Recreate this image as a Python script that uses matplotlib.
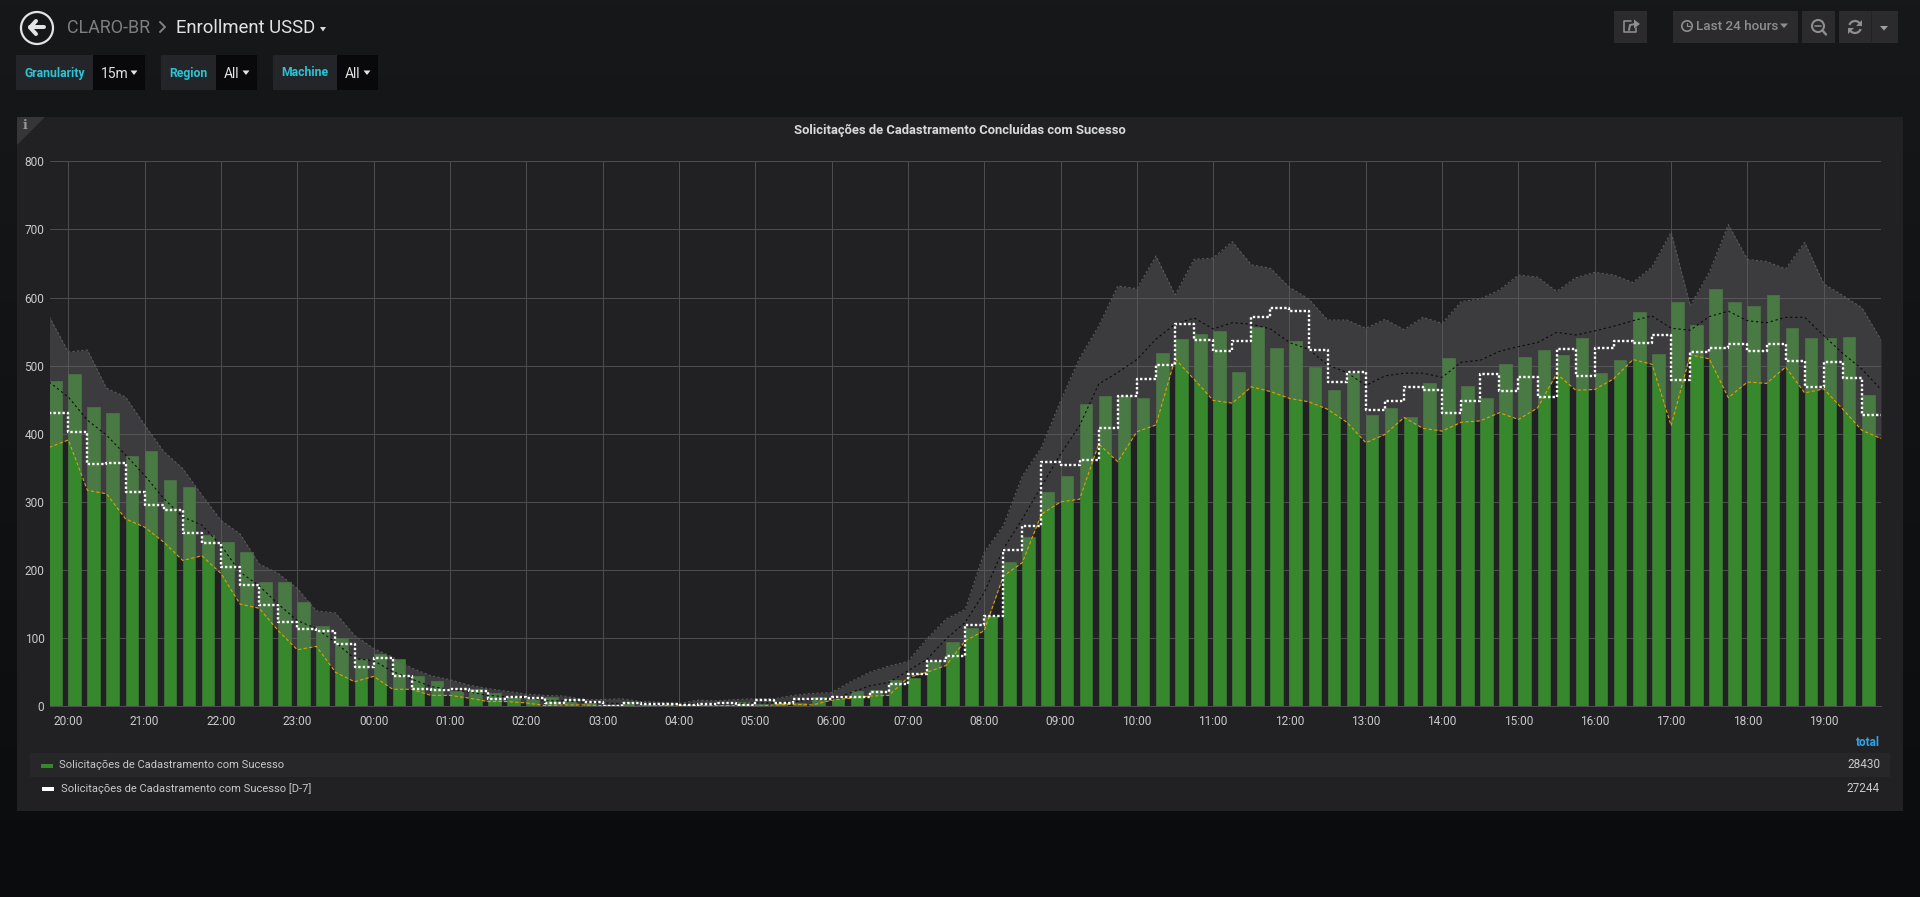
import numpy as np
import matplotlib
matplotlib.use('Agg')
import matplotlib.pyplot as plt
from matplotlib.patches import Rectangle, Polygon, Circle, Arc

plt.rcParams['font.family'] = ['Roboto', 'DejaVu Sans']

# series, one value per 15 minutes starting 19:45
sucesso = [478, 488, 440, 431, 367, 375, 332, 322, 251, 241, 226, 182, 182, 153, 118, 100,
           70, 77, 70, 45, 37, 23, 26, 19, 14, 11, 13, 8, 5, 2, 6, 4, 2, 3, 2, 2, 7, 4, 6, 5,
           14, 10, 22, 24, 38, 41, 66, 94, 115, 133, 212, 249, 315, 338, 444, 455, 456, 453,
           519, 539, 546, 551, 491, 557, 526, 536, 498, 464, 489, 428, 438, 425, 475, 511,
           470, 452, 502, 513, 523, 516, 541, 489, 508, 579, 517, 593, 560, 613, 594, 587,
           604, 556, 540, 540, 542, 457]
d7 = [431, 402, 356, 357, 314, 295, 288, 255, 239, 205, 178, 148, 124, 114, 111, 92,
      57, 71, 44, 26, 24, 25, 22, 11, 13, 12, 5, 9, 7, 1, 5, 4, 4, 2, 3, 5, 2, 9, 5, 10,
      10, 13, 14, 21, 33, 48, 66, 74, 119, 133, 229, 264, 358, 354, 362, 409, 456, 480,
      501, 561, 538, 522, 536, 571, 584, 580, 523, 476, 490, 435, 448, 469, 464, 431,
      448, 488, 463, 483, 454, 525, 485, 526, 536, 533, 545, 479, 520, 526, 532, 522,
      532, 507, 469, 506, 482, 427, 427]
banda_sup = [572, 520, 523, 467, 454, 413, 374, 349, 310, 273, 253, 209, 195, 173, 140, 137,
             104, 85, 72, 56, 45, 39, 31, 26, 22, 18, 16, 15, 10, 10, 11, 7, 6, 4, 9, 8, 10,
             11, 11, 16, 19, 20, 36, 50, 59, 66, 99, 128, 142, 226, 265, 338, 380, 448, 511,
             558, 617, 613, 661, 604, 656, 658, 682, 648, 643, 615, 598, 567, 567, 555, 568,
             553, 571, 562, 594, 598, 611, 633, 630, 609, 629, 637, 633, 622, 645, 696, 588,
             637, 707, 656, 653, 642, 681, 620, 603, 585, 538]
banda_inf = [380, 391, 317, 312, 275, 263, 241, 214, 221, 195, 150, 144, 111, 83, 88, 50,
             36, 44, 25, 25, 16, 16, 12, 7, 7, 5, 1, 2, 2, 1, 0, 0, 1, 2, 1, 1, 1, 0, 2, 3,
             2, 9, 12, 15, 16, 42, 50, 60, 96, 111, 191, 211, 282, 300, 304, 385, 359, 403,
             413, 510, 480, 449, 445, 469, 462, 452, 447, 436, 417, 387, 399, 424, 408, 404,
             417, 419, 431, 421, 438, 488, 464, 465, 481, 509, 502, 412, 516, 510, 453, 476,
             474, 498, 460, 466, 436, 405, 393]
media = [476, 454, 420, 398, 369, 339, 305, 278, 266, 236, 197, 177, 150, 126, 114, 94,
         70, 67, 51, 40, 29, 25, 21, 16, 14, 13, 8, 8, 6, 5, 4, 4, 3, 3, 4, 3, 4, 5, 5, 7,
         9, 10, 20, 30, 35, 52, 69, 99, 123, 167, 231, 275, 323, 370, 412, 473, 490, 509,
         539, 561, 570, 554, 563, 561, 554, 534, 524, 501, 490, 471, 485, 489, 489, 483,
         505, 508, 521, 528, 534, 549, 545, 551, 558, 566, 573, 555, 552, 572, 580, 566,
         563, 571, 571, 544, 518, 495, 465]

horas = ['20:00', '21:00', '22:00', '23:00', '00:00', '01:00', '02:00', '03:00',
         '04:00', '05:00', '06:00', '07:00', '08:00', '09:00', '10:00', '11:00',
         '12:00', '13:00', '14:00', '15:00', '16:00', '17:00', '18:00', '19:00']
y_ticks = [0, 100, 200, 300, 400, 500, 600, 700, 800]
legenda = ['Solicitações de Cadastramento com Sucesso',
           'Solicitações de Cadastramento com Sucesso [D-7]']
totais = [28430, 27244]

W, H = 1920, 897
GRID = '#4c4c4f'
TXT = '#c8c9ca'

fig = plt.figure(figsize=(W / 100, H / 100), dpi=100)

# page background and dashboard chrome, in pixel coordinates
bg = fig.add_axes([0, 0, 1, 1])
grad = np.linspace(0, 1, 256).reshape(-1, 1)
top = np.array([0x17, 0x18, 0x1a]) / 255
bot = np.array([0x0b, 0x0c, 0x0e]) / 255
bg.imshow((top + (bot - top) * grad[..., None]), extent=[0, W, H, 0], aspect='auto')
bg.set_xlim(0, W)
bg.set_ylim(H, 0)
bg.axis('off')


def box(x0, y0, x1, y1, c):
    bg.add_patch(Rectangle((x0, y0), x1 - x0, y1 - y0, fc=c, ec='none'))


def caret(x, y, c, s=4):
    bg.add_patch(Polygon([(x - s, y - 2), (x + s, y - 2), (x, y + 2.5)], fc=c, ec='none'))


def px_line(xs, ys, c, w, **kw):
    bg.plot(xs, ys, color=c, lw=w * 0.72, solid_capstyle='round', **kw)


# panel
box(17, 117, 1903, 811, '#212124')
bg.add_patch(Polygon([(17, 117), (45, 117), (17, 145)], fc='#35353a', ec='none'))
bg.text(25, 125.5, 'i', color='#9a9a9a', fontsize=9, family='DejaVu Serif', weight='bold',
        ha='center', va='center')
bg.text(959.5, 130.5, 'Solicitações de Cadastramento Concluídas com Sucesso', color='#d8d9da',
        fontsize=9.37, weight='bold', ha='center', va='center')

# header
bg.add_patch(Circle((37, 28), 16, fc='none', ec='#e3e3e3', lw=1.6))
px_line([30, 44], [27.5, 27.5], '#e3e3e3', 4)
px_line([36, 30, 36], [21, 27.5, 34], '#e3e3e3', 4)
bg.text(67, 28, 'CLARO-BR', color='#7f7f7f', fontsize=12.9, va='center')
px_line([160, 165, 160], [22, 27, 32], '#7f7f7f', 2)
bg.text(176, 28, 'Enrollment USSD', color='#e3e3e3', fontsize=13.35, va='center')
caret(323, 29, '#d8d9da', 3)

# template variables
var_boxes = [('Granularity', '15m', 16, 93, 145), ('Region', 'All', 161, 216, 257),
             ('Machine', 'All', 273, 337, 378)]
for nome, valor, x0, x1, x2 in var_boxes:
    box(x0, 55, x1, 90, '#242529')
    box(x1, 55, x2, 90, '#09090b')
    bg.text(x0 + 8.5, 73, nome, color='#2bc4d6', fontsize=8.8, weight='bold', va='center')
    bg.text(x1 + 8, 74, valor, color='#e3e3e3', fontsize=10, va='center')
    caret(x2 - 11, 72.5, '#e3e3e3', 3.5)

# toolbar buttons
for x0, x1 in [(1614, 1647), (1673, 1798), (1802, 1835), (1839, 1898)]:
    box(x0, 11, x1, 43, '#2b2b2e')
px_line([1871, 1871], [11, 43], '#232326', 1)
ICON = '#8e8e8e'
px_line([1631, 1624, 1624, 1636, 1636], [21.5, 21.5, 32, 32, 28], ICON, 1.6)
px_line([1629, 1630, 1635], [30, 25, 24], ICON, 2)
bg.add_patch(Polygon([(1634, 19.5), (1640, 24), (1634, 28.5)], fc=ICON, ec='none'))
bg.add_patch(Circle((1687, 26), 5.2, fc='none', ec=ICON, lw=1.2))
px_line([1687, 1687, 1690], [23, 26.5, 26.5], ICON, 1.2)
bg.text(1696, 27, 'Last 24 hours', color=ICON, fontsize=9.7, weight='medium', va='center')
caret(1784, 25.5, ICON, 4)
bg.add_patch(Circle((1818, 26), 6, fc='none', ec=ICON, lw=1.5))
px_line([1815, 1821], [26, 26], ICON, 1.6)
px_line([1823, 1826], [31, 34.5], ICON, 2.4)
bg.add_patch(Arc((1855, 27), 12, 12, theta1=200, theta2=350, ec=ICON, lw=1.6))
bg.add_patch(Arc((1855, 27), 12, 12, theta1=20, theta2=170, ec=ICON, lw=1.6))
bg.add_patch(Polygon([(1862, 20), (1862, 26), (1856, 26)], fc=ICON, ec='none'))
bg.add_patch(Polygon([(1848, 34), (1848, 28), (1854, 28)], fc=ICON, ec='none'))
caret(1884, 28, '#a0a0a0', 4)

# legend
box(30, 753, 1890, 777, '#27272a')
box(41, 764, 53, 768, '#37872d')
box(42, 787, 54, 791, '#ffffff')
bg.text(59, 764.5, legenda[0], color=TXT, fontsize=8.0, va='center')
bg.text(61, 788.5, legenda[1], color=TXT, fontsize=8.0, va='center')
bg.text(1880, 742, 'total', color='#33a2e5', fontsize=8.5, weight='bold', ha='right', va='center')
bg.text(1880, 764, str(totais[0]), color=TXT, fontsize=8.5, ha='right', va='center')
bg.text(1880, 788, str(totais[1]), color=TXT, fontsize=8.5, ha='right', va='center')

# the graph itself
ax = fig.add_axes([50 / W, 1 - 706.3 / H, (1881 - 50) / W, (706.3 - 161.3) / H])
ax.patch.set_alpha(0)
x_bar = np.arange(len(sucesso))
x_pts = np.arange(len(media))

ax.bar(x_bar, sucesso, width=0.66, align='edge', color='#37872d', edgecolor='#3f7a38',
       linewidth=0.5, zorder=2)
ax.fill_between(x_pts, banda_inf, banda_sup, color='#676767', alpha=0.4, lw=0, zorder=3)
ax.plot(x_pts, banda_sup, color='#5a5a5c', lw=0.8, ls=(0, (2, 2)), zorder=4)
ax.plot(x_pts, banda_inf, color='#d9a400', lw=0.8, ls=(0, (3, 2)), zorder=5)
ax.plot(x_pts, media, color='#0a0a0a', lw=0.8, ls=(0, (2, 2.5)), zorder=5)
ax.step(x_pts, d7, where='post', color='#ffffff', lw=1.7, ls=(0, (1, 0.9)), zorder=6)

ax.set_xlim(0.04, 96)
ax.set_ylim(0, 800)
ax.set_yticks(y_ticks)
ax.set_xticks(np.arange(len(horas)) * 4 + 1)
ax.set_xticklabels(horas)
ax.grid(True, color=GRID, lw=0.75)
ax.set_axisbelow(True)
ax.tick_params(length=0, labelsize=8.6, labelcolor=TXT, pad=6)
ax.tick_params(axis='y', pad=4)
for s in ['top', 'right', 'left']:
    ax.spines[s].set_visible(False)
ax.spines['bottom'].set_color(GRID)
ax.spines['bottom'].set_linewidth(0.75)

fig.savefig('out.png', dpi=100, facecolor='#161719')
